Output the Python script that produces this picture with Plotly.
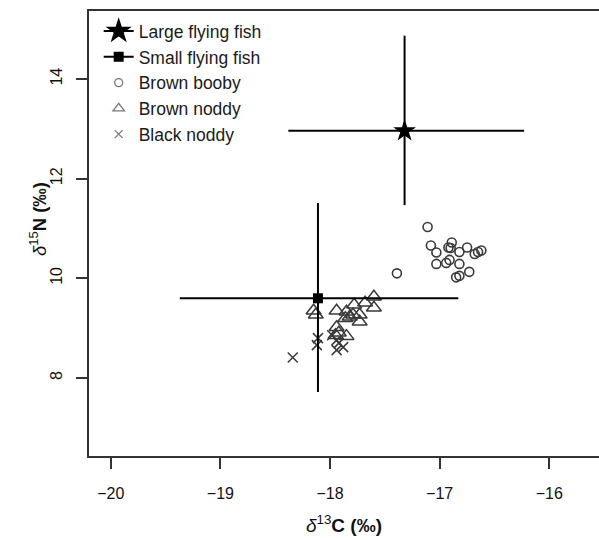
import plotly.graph_objects as go

# ---- data ----
booby_x = [-17.11, -17.08, -17.03, -16.89, -16.92, -16.90, -16.82, -16.75, -16.68, -16.65,
           -16.62, -17.03, -16.94, -16.91, -16.82, -16.85, -16.82, -16.73, -17.39]
booby_y = [11.03, 10.66, 10.52, 10.72, 10.62, 10.61, 10.53, 10.62, 10.49, 10.53,
           10.56, 10.29, 10.31, 10.37, 10.29, 10.02, 10.05, 10.13, 10.10]

brown_noddy_x = [-18.15, -18.13, -17.94, -17.85, -17.86, -17.78, -17.79, -17.73, -17.73,
                 -17.68, -17.60, -17.60, -17.94, -17.92, -17.85, -17.95, -17.82]
brown_noddy_y = [9.35, 9.27, 9.35, 9.33, 9.20, 9.47, 9.27, 9.27, 9.13,
                 9.51, 9.63, 9.41, 9.02, 8.91, 8.84, 8.86, 9.23]

black_noddy_x = [-18.34, -18.11, -18.12, -17.98, -17.94, -17.94, -17.88, -17.92]
black_noddy_y = [8.41, 8.80, 8.66, 8.86, 8.76, 8.56, 8.62, 8.70]

large_fish_x = [-17.32]
large_fish_y = [12.96]
large_fish_x_minus = [1.06]
large_fish_x_plus = [1.09]
large_fish_y_minus = [1.49]
large_fish_y_plus = [1.91]

small_fish_x = [-18.11]
small_fish_y = [9.60]
small_fish_x_minus = [1.26]
small_fish_x_plus = [1.28]
small_fish_y_minus = [1.88]
small_fish_y_plus = [1.91]

x_ticks = [-20, -19, -18, -17, -16]
x_tick_labels = ["\u221220", "\u221219", "\u221218", "\u221217", "\u221216"]
y_ticks = [8, 10, 12, 14]
y_tick_labels = ["8", "10", "12", "14"]

FONT = "Liberation Sans, Arial, sans-serif"
PT = "#3a3a3a"
LEG = "#777777"

fig = go.Figure()

# seabirds
fig.add_trace(go.Scatter(x=booby_x, y=booby_y, mode="markers", showlegend=False,
                         marker=dict(symbol="circle-open", size=9, color=PT, line=dict(width=1.6, color=PT))))
fig.add_trace(go.Scatter(x=brown_noddy_x, y=brown_noddy_y, mode="markers", showlegend=False,
                         marker=dict(symbol="triangle-up-open", size=13, color=PT, line=dict(width=1.5, color=PT))))
fig.add_trace(go.Scatter(x=black_noddy_x, y=black_noddy_y, mode="markers", showlegend=False,
                         marker=dict(symbol="x-thin-open", size=10, color=PT, line=dict(width=1.5, color=PT))))

# fish with error bars
for fx, fy, xm, xp, ym, yp, sym, sz in [
    (large_fish_x, large_fish_y, large_fish_x_minus, large_fish_x_plus, large_fish_y_minus, large_fish_y_plus, "star", 17),
    (small_fish_x, small_fish_y, small_fish_x_minus, small_fish_x_plus, small_fish_y_minus, small_fish_y_plus, "square", 10),
]:
    fig.add_trace(go.Scatter(
        x=fx, y=fy, mode="markers", showlegend=False,
        marker=dict(symbol=sym, size=sz, color="black"),
        error_x=dict(type="data", symmetric=False, array=xp, arrayminus=xm, width=0, thickness=2, color="black"),
        error_y=dict(type="data", symmetric=False, array=yp, arrayminus=ym, width=0, thickness=2, color="black"),
    ))

# legend entries
leg_items = [
    ("Large flying fish", "lines+markers", "star", 15, "black", 2),
    ("Small flying fish", "lines+markers", "square", 8, "black", 2),
    ("Brown booby", "markers", "circle-open", 8, LEG, 1.3),
    ("Brown noddy", "markers", "triangle-up-open", 10, LEG, 1.3),
    ("Black noddy", "markers", "x-thin-open", 8, LEG, 1.3),
]
for i, (name, mode, sym, sz, col, lw) in enumerate(leg_items):
    fig.add_trace(go.Scatter(
        x=[None], y=[None], mode=mode, name=name, legendgroup=f"g{i}",
        line=dict(color="black", width=2),
        marker=dict(symbol=sym, size=sz, color=col, line=dict(width=lw, color=col)),
    ))

fig.update_layout(
    width=599, height=540,
    margin=dict(l=89, r=0, t=11, b=84),
    plot_bgcolor="white", paper_bgcolor="white",
    font=dict(family=FONT, size=16, color="#111111"),
    legend=dict(x=0.019, y=0.995, xanchor="left", yanchor="top",
                bgcolor="rgba(0,0,0,0)", font=dict(size=17.5, family=FONT, color="#1a1a1a"),
                traceorder="grouped", tracegroupgap=0, itemwidth=30),
    xaxis=dict(range=[-20.198, -15.547], tickvals=x_ticks, ticktext=x_tick_labels,
               showgrid=False, zeroline=False, showline=True, linecolor="#333", linewidth=2,
               mirror=True, ticks="outside", ticklen=11, tickwidth=2, tickcolor="#333",
               ticklabelstandoff=11, tickfont=dict(size=16),
               title=dict(text="<i>\u03b4</i><sup>13</sup><b>C (\u2030)</b>", font=dict(size=19), standoff=17)),
    yaxis=dict(range=[6.435, 15.365], tickvals=y_ticks, ticktext=y_tick_labels,
               showgrid=False, zeroline=False, showline=True, linecolor="#333", linewidth=2,
               ticks="outside", ticklen=11, tickwidth=2, tickcolor="#333",
               tickangle=-90, ticklabelstandoff=8, tickfont=dict(size=16)),
    annotations=[dict(text="<i>\u03b4</i><sup>15</sup><b>N (\u2030)</b>", xref="paper", yref="paper",
                      x=(38 - 89) / 510, y=(456 - 219) / 445, xanchor="center", yanchor="middle",
                      textangle=-90, showarrow=False, font=dict(size=18.5, family=FONT, color="#111111"))],
)

fig.write_html("out.html", config={"displayModeBar": False},
               post_script="document.body.style.margin='0';document.body.style.overflow='hidden';")
